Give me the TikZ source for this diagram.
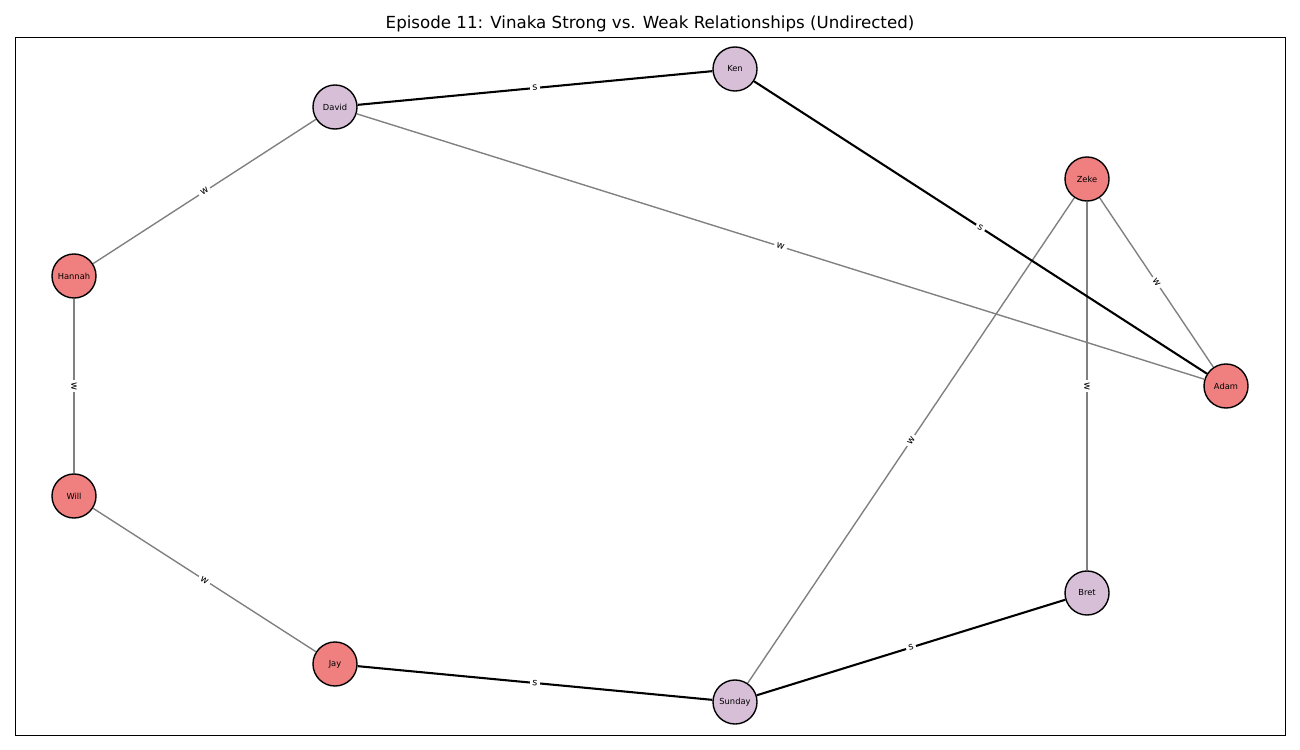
\documentclass[tikz,border=0pt]{standalone}
\usepackage{fontspec}
\setmainfont{DejaVu Sans}
\definecolor{redn}{HTML}{F08080}
\definecolor{purn}{HTML}{D8BFD8}
\begin{document}
\begin{tikzpicture}[x=0.72pt,y=-0.72pt,
  person/.style={circle,draw=black,line width=1pt,minimum size=31.7pt,inner sep=0pt,font=\fontsize{6}{7}\selectfont},
  rednode/.style={person,fill=redn},
  purnode/.style={person,fill=purn},
  strongedge/.style={draw=black,line width=1.5pt},
  weakedge/.style={draw=gray,line width=1pt},
  elabel/.style={midway,sloped,fill=white,inner sep=1.8pt,font=\fontsize{7}{8}\selectfont}]
\useasboundingbox (0,0) rectangle (1300,750);
\draw[line width=0.6pt] (15,37) rectangle (1285,735);
\node[font=\fontsize{12}{14}\selectfont] (title) at (650,24) {Episode 11: Vinaka Strong vs. Weak Relationships (Undirected)};
\node[purnode] (ken) at (735,69) {Ken};
\node[purnode] (david) at (335,107) {David};
\node[rednode] (zeke) at (1087,179) {Zeke};
\node[rednode] (hannah) at (74,276) {Hannah};
\node[rednode] (adam) at (1226,386) {Adam};
\node[rednode] (will) at (74,496) {Will};
\node[purnode] (bret) at (1087,593) {Bret};
\node[rednode] (jay) at (335,664) {Jay};
\node[purnode] (sunday) at (735,702) {Sunday};
\draw[weakedge] (david) -- node[elabel]{w} (hannah);
\draw[weakedge] (hannah) -- node[elabel]{w} (will);
\draw[weakedge] (will) -- node[elabel]{w} (jay);
\draw[weakedge] (david) -- node[elabel]{w} (adam);
\draw[weakedge] (zeke) -- node[elabel]{w} (adam);
\draw[weakedge] (zeke) -- node[elabel]{w} (bret);
\draw[weakedge] (zeke) -- node[elabel]{w} (sunday);
\draw[strongedge] (david) -- node[elabel]{s} (ken);
\draw[strongedge] (ken) -- node[elabel]{s} (adam);
\draw[strongedge] (jay) -- node[elabel]{s} (sunday);
\draw[strongedge] (sunday) -- node[elabel]{s} (bret);
\end{tikzpicture}
\end{document}
